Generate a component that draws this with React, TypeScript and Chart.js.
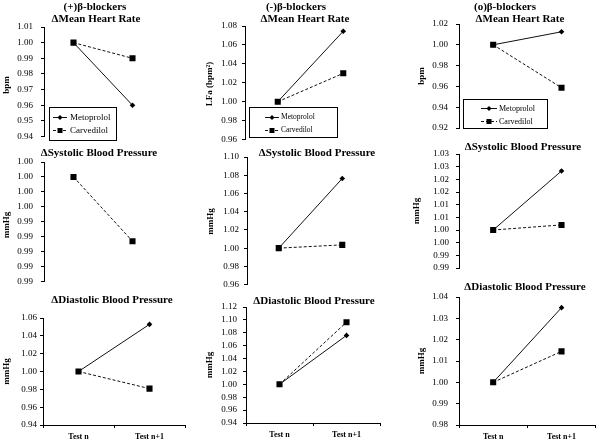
import React, { useEffect, useRef } from "react";
import { Chart, registerables } from "chart.js";

Chart.register(...registerables);

// ---------- data ----------
const categories = ["Test n", "Test n+1"];
const seriesNames = ["Metoprolol", "Carvedilol"];
const columnTitles = ["(+)β-blockers", "(-)β-blockers", "(o)β-blockers"];
const rowTitles = ["ΔMean Heart Rate", "ΔSystolic Blood Pressure", "ΔDiastolic Blood Pressure"];
const heartRateUnits = ["bpm", "LFa (bpm²)", "bpm"];
const pressureUnit = "mmHg";

const plusHeartRateMetoprolol = [1.0, 0.96];
const plusHeartRateCarvedilol = [1.0, 0.99];
const plusSystolicMetoprolol: (number | null)[] = [null, null];
const plusSystolicCarvedilol = [1.0, 0.9914];
const plusDiastolicMetoprolol = [1.0, 1.0529];
const plusDiastolicCarvedilol = [1.0, 0.9808];

const minusHeartRateMetoprolol = [1.0, 1.0745];
const minusHeartRateCarvedilol = [1.0, 1.03];
const minusSystolicMetoprolol = [1.0, 1.0764];
const minusSystolicCarvedilol = [1.0, 1.0036];
const minusDiastolicMetoprolol = [1.0, 1.0759];
const minusDiastolicCarvedilol = [1.0, 1.0964];

const zeroHeartRateMetoprolol = [1.0, 1.0125];
const zeroHeartRateCarvedilol = [1.0, 0.9587];
const zeroSystolicMetoprolol = [1.0, 1.0233];
const zeroSystolicCarvedilol = [1.0, 1.002];
const zeroDiastolicMetoprolol = [1.0, 1.035];
const zeroDiastolicCarvedilol = [1.0, 1.0145];

// tick values (top to bottom) and their printed labels
const plusHeartRateTicks = [1.01, 1.0, 0.99, 0.98, 0.97, 0.96, 0.95, 0.94];
const plusHeartRateTickLabels = ["1.01", "1.00", "0.99", "0.98", "0.97", "0.96", "0.95", "0.94"];
const plusSystolicTicks = [1.002, 1.0, 0.998, 0.996, 0.994, 0.992, 0.99, 0.988, 0.986];
const plusSystolicTickLabels = ["1.00", "1.00", "1.00", "1.00", "0.99", "0.99", "0.99", "0.99", "0.99"];
const plusDiastolicTicks = [1.06, 1.04, 1.02, 1.0, 0.98, 0.96, 0.94];
const plusDiastolicTickLabels = ["1.06", "1.04", "1.02", "1.00", "0.98", "0.96", "0.94"];

const minusHeartRateTicks = [1.08, 1.06, 1.04, 1.02, 1.0, 0.98, 0.96];
const minusHeartRateTickLabels = ["1.08", "1.06", "1.04", "1.02", "1.00", "0.98", "0.96"];
const minusSystolicTicks = [1.1, 1.08, 1.06, 1.04, 1.02, 1.0, 0.98, 0.96];
const minusSystolicTickLabels = ["1.10", "1.08", "1.06", "1.04", "1.02", "1.00", "0.98", "0.96"];
const minusDiastolicTicks = [1.12, 1.1, 1.08, 1.06, 1.04, 1.02, 1.0, 0.98, 0.96, 0.94];
const minusDiastolicTickLabels = ["1.12", "1.10", "1.08", "1.06", "1.04", "1.02", "1.00", "0.98", "0.96", "0.94"];

const zeroHeartRateTicks = [1.02, 1.0, 0.98, 0.96, 0.94, 0.92];
const zeroHeartRateTickLabels = ["1.02", "1.00", "0.98", "0.96", "0.94", "0.92"];
const zeroSystolicTicks = [1.03, 1.025, 1.02, 1.015, 1.01, 1.005, 1.0, 0.995, 0.99, 0.985];
const zeroSystolicTickLabels = ["1.03", "1.03", "1.02", "1.02", "1.01", "1.01", "1.00", "1.00", "0.99", "0.99"];
const zeroDiastolicTicks = [1.04, 1.03, 1.02, 1.01, 1.0, 0.99, 0.98];
const zeroDiastolicTickLabels = ["1.04", "1.03", "1.02", "1.01", "1.00", "0.99", "0.98"];

// ---------- layout (page pixels) ----------
const FONT = '"Liberation Serif", "Times New Roman", serif';

type Title = { text: string; x: number; y: number };
type Legend = {
  x: number; y: number; w: number; h: number;
  rows: number[]; lx0: number; lx1: number; mx: number; tx: number; size: number;
};
type Layout = {
  cx: number; cy: number; cw: number; ch: number;
  l: number; r: number; t: number; b: number;
  tickPad: number; yTitleX: number; titles: Title[]; legend?: Legend; bottom: boolean;
};

type Spec = {
  metoprolol: (number | null)[];
  carvedilol: (number | null)[];
  ticks: number[];
  tickLabels: string[];
  yTitle: string;
  layout: Layout;
};

const specs: Spec[] = [
  {
    metoprolol: plusHeartRateMetoprolol, carvedilol: plusHeartRateCarvedilol,
    ticks: plusHeartRateTicks, tickLabels: plusHeartRateTickLabels, yTitle: heartRateUnits[0],
    layout: {
      cx: 0, cy: 0, cw: 200, ch: 150, l: 44, r: 162, t: 27, b: 143, tickPad: 8, yTitleX: 7, bottom: false,
      titles: [{ text: columnTitles[0], x: 95, y: 7 }, { text: rowTitles[0], x: 96, y: 19 }],
      legend: { x: 49, y: 107, w: 67, h: 33, rows: [117, 130], lx0: 53, lx1: 67, mx: 60, tx: 70, size: 9 },
    },
  },
  {
    metoprolol: minusHeartRateMetoprolol, carvedilol: minusHeartRateCarvedilol,
    ticks: minusHeartRateTicks, tickLabels: minusHeartRateTickLabels, yTitle: heartRateUnits[1],
    layout: {
      cx: 200, cy: 0, cw: 200, ch: 150, l: 245, r: 376, t: 26, b: 142, tickPad: 5, yTitleX: 210, bottom: false,
      titles: [{ text: columnTitles[1], x: 296, y: 7 }, { text: rowTitles[0], x: 305, y: 19 }],
      legend: { x: 249, y: 107, w: 88, h: 30, rows: [117, 130], lx0: 265, lx1: 279, mx: 272, tx: 281, size: 7.5 },
    },
  },
  {
    metoprolol: zeroHeartRateMetoprolol, carvedilol: zeroHeartRateCarvedilol,
    ticks: zeroHeartRateTicks, tickLabels: zeroHeartRateTickLabels, yTitle: heartRateUnits[2],
    layout: {
      cx: 400, cy: 0, cw: 200, ch: 150, l: 459, r: 599, t: 24, b: 128, tickPad: 8, yTitleX: 422, bottom: false,
      titles: [{ text: columnTitles[2], x: 505, y: 7 }, { text: rowTitles[0], x: 520, y: 19 }],
      legend: { x: 463, y: 99, w: 84, h: 29, rows: [108, 121], lx0: 481, lx1: 497, mx: 489, tx: 499, size: 8 },
    },
  },
  {
    metoprolol: plusSystolicMetoprolol, carvedilol: plusSystolicCarvedilol,
    ticks: plusSystolicTicks, tickLabels: plusSystolicTickLabels, yTitle: pressureUnit,
    layout: {
      cx: 0, cy: 140, cw: 200, ch: 155, l: 44, r: 162, t: 162, b: 288, tickPad: 8, yTitleX: 7, bottom: false,
      titles: [{ text: rowTitles[1], x: 99, y: 153 }],
    },
  },
  {
    metoprolol: minusSystolicMetoprolol, carvedilol: minusSystolicCarvedilol,
    ticks: minusSystolicTicks, tickLabels: minusSystolicTickLabels, yTitle: pressureUnit,
    layout: {
      cx: 200, cy: 140, cw: 200, ch: 155, l: 247, r: 374, t: 157, b: 286, tickPad: 5, yTitleX: 211, bottom: false,
      titles: [{ text: rowTitles[1], x: 317, y: 153 }],
    },
  },
  {
    metoprolol: zeroSystolicMetoprolol, carvedilol: zeroSystolicCarvedilol,
    ticks: zeroSystolicTicks, tickLabels: zeroSystolicTickLabels, yTitle: pressureUnit,
    layout: {
      cx: 400, cy: 140, cw: 200, ch: 155, l: 459, r: 599, t: 154, b: 268, tickPad: 7, yTitleX: 417, bottom: false,
      titles: [{ text: rowTitles[1], x: 523, y: 147 }],
    },
  },
  {
    metoprolol: plusDiastolicMetoprolol, carvedilol: plusDiastolicCarvedilol,
    ticks: plusDiastolicTicks, tickLabels: plusDiastolicTickLabels, yTitle: pressureUnit,
    layout: {
      cx: 0, cy: 280, cw: 200, ch: 162, l: 43, r: 185, t: 318, b: 425, tickPad: 3, yTitleX: 7, bottom: true,
      titles: [{ text: rowTitles[2], x: 112, y: 300 }],
    },
  },
  {
    metoprolol: minusDiastolicMetoprolol, carvedilol: minusDiastolicCarvedilol,
    ticks: minusDiastolicTicks, tickLabels: minusDiastolicTickLabels, yTitle: pressureUnit,
    layout: {
      cx: 200, cy: 280, cw: 200, ch: 162, l: 246, r: 380, t: 307, b: 423, tickPad: 6, yTitleX: 210, bottom: true,
      titles: [{ text: rowTitles[2], x: 314, y: 301 }],
    },
  },
  {
    metoprolol: zeroDiastolicMetoprolol, carvedilol: zeroDiastolicCarvedilol,
    ticks: zeroDiastolicTicks, tickLabels: zeroDiastolicTickLabels, yTitle: pressureUnit,
    layout: {
      cx: 400, cy: 280, cw: 200, ch: 162, l: 459, r: 598, t: 297, b: 425, tickPad: 8, yTitleX: 422, bottom: true,
      titles: [{ text: rowTitles[2], x: 525, y: 287 }],
    },
  },
];

const LINE = "#111";
const X_AXIS_H = 17;

function drawMarker(ctx: CanvasRenderingContext2D, kind: number, x: number, y: number, s: number) {
  ctx.beginPath();
  if (kind === 0) {
    ctx.moveTo(x, y - s);
    ctx.lineTo(x + s, y);
    ctx.lineTo(x, y + s);
    ctx.lineTo(x - s, y);
    ctx.closePath();
  } else {
    ctx.rect(x - s, y - s, 2 * s, 2 * s);
  }
  ctx.fill();
}

function Panel({ spec }: { spec: Spec }) {
  const ref = useRef<HTMLCanvasElement>(null);
  const L = spec.layout;

  useEffect(() => {
    if (!ref.current) return;
    const tickVals = spec.ticks;
    const minV = Math.min(...tickVals);
    const maxV = Math.max(...tickVals);
    const xh = L.bottom ? X_AXIS_H : 0;

    const overlay = {
      id: "overlay",
      afterDraw(chart: any) {
        const ctx: CanvasRenderingContext2D = chart.ctx;
        ctx.save();
        ctx.fillStyle = "#000";
        ctx.textAlign = "center";
        ctx.textBaseline = "middle";
        ctx.font = `bold 11px ${FONT}`;
        for (const t of L.titles) ctx.fillText(t.text, t.x - L.cx, t.y - L.cy);

        ctx.save();
        ctx.translate(L.yTitleX - L.cx, (L.t + L.b) / 2 - L.cy);
        ctx.rotate(-Math.PI / 2);
        ctx.font = `bold 9px ${FONT}`;
        ctx.fillText(spec.yTitle, 0, 0);
        ctx.restore();

        const lg = L.legend;
        if (lg) {
          ctx.fillStyle = "#fff";
          ctx.fillRect(lg.x - L.cx, lg.y - L.cy, lg.w, lg.h);
          ctx.strokeStyle = "#000";
          ctx.lineWidth = 1;
          ctx.strokeRect(lg.x - L.cx + 0.5, lg.y - L.cy + 0.5, lg.w, lg.h);
          lg.rows.forEach((ry, i) => {
            const y = ry - L.cy;
            ctx.strokeStyle = LINE;
            ctx.lineWidth = 1;
            ctx.setLineDash(i === 0 ? [] : [3, 2]);
            ctx.beginPath();
            ctx.moveTo(lg.lx0 - L.cx, y + 0.5);
            ctx.lineTo(lg.lx1 - L.cx, y + 0.5);
            ctx.stroke();
            ctx.setLineDash([]);
            ctx.fillStyle = "#000";
            drawMarker(ctx, i, lg.mx - L.cx, y + 0.5, 2.5);
            ctx.font = `${lg.size}px ${FONT}`;
            ctx.textAlign = "left";
            ctx.fillText(seriesNames[i], lg.tx - L.cx, y + 0.5);
          });
        }
        ctx.restore();
      },
    };

    const chart = new Chart(ref.current, {
      type: "line",
      data: {
        labels: categories,
        datasets: [
          {
            label: seriesNames[0],
            data: spec.metoprolol,
            borderColor: LINE,
            backgroundColor: "#000",
            borderWidth: 1,
            pointStyle: "rectRot",
            pointRadius: 2.8,
            pointBorderWidth: 0,
            pointBackgroundColor: "#000",
            fill: false,
          },
          {
            label: seriesNames[1],
            data: spec.carvedilol,
            borderColor: LINE,
            backgroundColor: "#000",
            borderWidth: 1,
            borderDash: [3, 2],
            pointStyle: "rect",
            pointRadius: 4.3,
            pointBorderWidth: 0,
            pointBackgroundColor: "#000",
            fill: false,
          },
        ],
      },
      options: {
        animation: false,
        responsive: false,
        maintainAspectRatio: false,
        events: [],
        layout: {
          padding: {
            left: 0,
            top: L.t - L.cy,
            right: L.cx + L.cw - L.r,
            bottom: L.cy + L.ch - L.b - xh,
          },
        },
        plugins: {
          legend: { display: false },
          title: { display: false },
          tooltip: { enabled: false },
        },
        scales: {
          x: {
            type: "category",
            display: L.bottom,
            offset: true,
            grid: {
              offset: true,
              drawOnChartArea: false,
              drawTicks: true,
              tickLength: 3,
              color: "#000",
            },
            border: { display: true, color: "#000", width: 1 },
            ticks: {
              font: { family: FONT, size: 8, weight: "bold" },
              color: "#000",
              padding: 4,
              maxRotation: 0,
              autoSkip: false,
            },
            afterFit: (s: any) => {
              s.height = xh;
            },
          },
          y: {
            type: "linear",
            min: minV,
            max: maxV,
            afterBuildTicks: (s: any) => {
              s.ticks = [...tickVals].sort((a, b) => a - b).map((v) => ({ value: v }));
            },
            ticks: {
              callback: (v: any) => {
                const idx = tickVals.findIndex((t) => Math.abs(t - Number(v)) < 1e-9);
                return idx >= 0 ? spec.tickLabels[idx] : "";
              },
              font: { family: FONT, size: 9 },
              color: "#000",
              padding: L.tickPad,
              autoSkip: false,
            },
            grid: {
              drawOnChartArea: false,
              drawTicks: true,
              tickLength: 3,
              color: "#000",
            },
            border: { display: true, color: "#000", width: 1 },
            afterFit: (s: any) => {
              s.width = L.l - L.cx;
            },
          },
        },
      },
      plugins: [overlay],
    } as any);

    return () => chart.destroy();
  }, []);

  return (
    <canvas
      ref={ref}
      width={L.cw}
      height={L.ch}
      style={{ position: "absolute", left: L.cx, top: L.cy, width: L.cw, height: L.ch }}
    />
  );
}

export default function App() {
  return (
    <div
      style={{
        position: "fixed",
        left: 0,
        top: 0,
        width: 600,
        height: 442,
        background: "#fff",
        overflow: "hidden",
      }}
    >
      {specs.map((s, i) => (
        <Panel key={i} spec={s} />
      ))}
    </div>
  );
}
